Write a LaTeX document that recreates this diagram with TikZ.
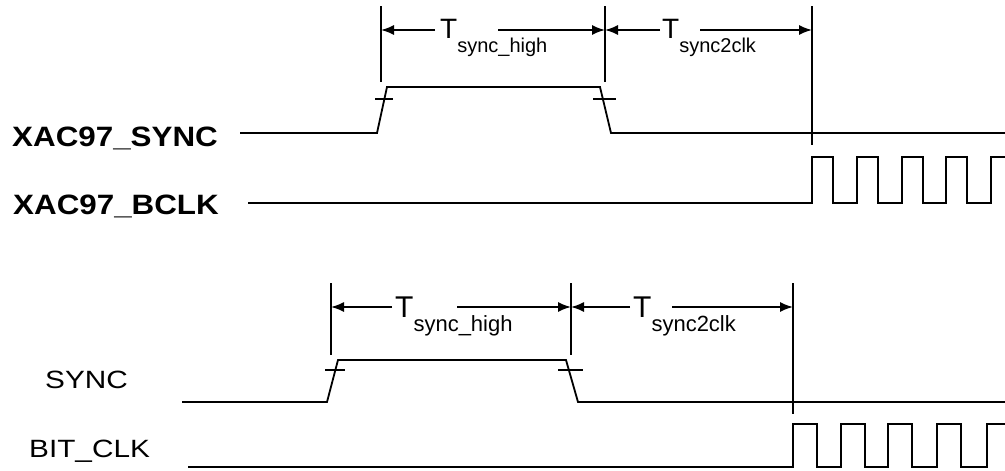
\documentclass[tikz,border=0pt]{standalone}
\usepackage{fontspec}
\setmainfont{Liberation Sans}
\usetikzlibrary{arrows.meta}
\tikzset{
  sig/.style={line width=1.8pt},
  dim/.style={line width=1.6pt},
  tip/.style={-{Latex[length=13pt,width=10pt]}},
  lbl/.style={anchor=base west,inner sep=0pt},
}
\newcommand\sigbold[1]{\scalebox{1.12}[1]{\fontsize{28}{28}\selectfont\bfseries #1}}
\newcommand\signame[1]{\scalebox{1.19}[1]{\fontsize{25}{25}\selectfont #1}}
\newcommand\tname[3]{{\fontsize{#1}{#1}\selectfont T}\raisebox{-14pt}{\fontsize{#2}{#2}\selectfont #3}}
\begin{document}
\begin{tikzpicture}[x=1pt,y=-1pt]
\useasboundingbox (0,0) rectangle (1005,471);
% upper diagram
\node[lbl] (xsync) at (12,146) {\sigbold{XAC97\_SYNC}};
\node[lbl] (xbclk) at (13,214) {\sigbold{XAC97\_BCLK}};
\coordinate (A) at (381,30);
\coordinate (B) at (605,30);
\coordinate (C) at (812,30);
\coordinate (A1) at (435,30);
\coordinate (B0) at (498,30);
\coordinate (B1) at (660,30);
\coordinate (C0) at (700,30);
\draw[dim] (381,6) -- (381,82);
\draw[dim] (605,6) -- (605,82);
\draw[dim] (812,6) -- (812,145);
\draw[dim,tip] (A1) -- (A);
\draw[dim,tip] (B0) -- (B);
\draw[dim,tip] (B1) -- (B);
\draw[dim,tip] (C0) -- (C);
\node[lbl] (thigh) at (440,38) {\tname{28}{20}{sync\_high}};
\node[lbl] (t2clk) at (662,38) {\tname{28}{20}{sync2clk}};
\draw[sig] (240,133) -- (377,133) -- (387,87) -- (600,87) -- (611,133) -- (1005,133);
\draw[dim] (375,99) -- (393,99);
\draw[dim] (593,99) -- (616,99);
\draw[sig] (248,203) \foreach \x in {812,857,902,946} {-- (\x,203) -- (\x,157) -- (\x+21,157) -- (\x+21,203)} -- (991,203) -- (991,157) -- (1005,157);

% lower diagram
\node[lbl] (sync) at (45,388) {\signame{SYNC}};
\node[lbl] (bitclk) at (29,457) {\signame{BIT\_CLK}};
\coordinate (D) at (331,307);
\coordinate (E) at (571,307);
\coordinate (F) at (793,307);
\coordinate (D1) at (392,307);
\coordinate (E0) at (457,307);
\coordinate (E1) at (630,307);
\coordinate (F0) at (672,307);
\draw[dim] (331,283) -- (331,355);
\draw[dim] (571,283) -- (571,355);
\draw[dim] (793,283) -- (793,414);
\draw[dim,tip] (D1) -- (D);
\draw[dim,tip] (E0) -- (E);
\draw[dim,tip] (E1) -- (E);
\draw[dim,tip] (F0) -- (F);
\node[lbl] (shigh) at (395,317) {\tname{30}{22}{sync\_high}};
\node[lbl] (s2clk) at (633,317) {\tname{30}{22}{sync2clk}};
\draw[sig] (182,402) -- (327,402) -- (338,360) -- (566,360) -- (578,402) -- (1005,402);
\draw[dim] (325,370) -- (345,370);
\draw[dim] (558,370) -- (583,370);
\draw[sig] (188,467) \foreach \x in {793,841,888,937} {-- (\x,467) -- (\x,424) -- (\x+24,424) -- (\x+24,467)} -- (987,467) -- (987,424) -- (1005,424);
\end{tikzpicture}
\end{document}
